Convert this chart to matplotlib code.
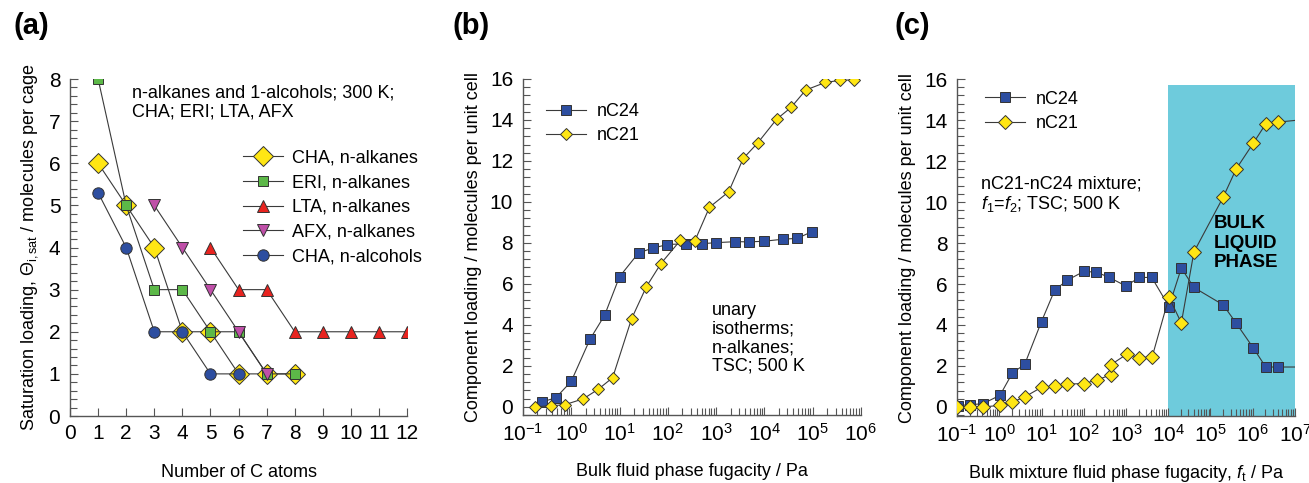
import numpy as np
import matplotlib
matplotlib.use("Agg")
from matplotlib import pyplot as plt
from matplotlib.ticker import MultipleLocator, LogLocator, NullFormatter

plt.rcParams['font.family'] = ['Liberation Sans', 'DejaVu Sans']
plt.rcParams['mathtext.fontset'] = 'custom'
plt.rcParams['mathtext.rm'] = 'Liberation Sans'
plt.rcParams['mathtext.it'] = 'Liberation Sans:italic'
plt.rcParams['mathtext.bf'] = 'Liberation Sans:bold'

# ---- (a) saturation loadings vs carbon number, 300 K
cha_alk_n = [1, 2, 3, 4, 5, 6, 7, 8]
cha_alk_q = [6, 5, 4, 2, 2, 1, 1, 1]
eri_alk_n = [1, 2, 3, 4, 5, 6, 7, 8]
eri_alk_q = [8, 5, 3, 3, 2, 2, 1, 1]
lta_alk_n = [5, 6, 7, 8, 9, 10, 11, 12]
lta_alk_q = [4, 3, 3, 2, 2, 2, 2, 2]
afx_alk_n = [3, 4, 5, 6, 7]
afx_alk_q = [5, 4, 3, 2, 1]
cha_alc_n = [1, 2, 3, 4, 5, 6]
cha_alc_q = [5.3, 4, 2, 2, 1, 1]

# ---- (b) unary isotherms, TSC, 500 K
b_f24 = [0.25, 0.48, 1.0, 2.45, 4.9, 10, 25, 50, 98, 240, 500, 1000, 2500,
         4900, 9800, 24500, 48000, 97000]
b_q24 = [0.24, 0.44, 1.24, 3.3, 4.46, 6.35, 7.52, 7.75, 7.92, 7.96, 7.96,
         8.01, 8.06, 8.05, 8.08, 8.18, 8.22, 8.55]
b_f21 = [0.18, 0.375, 0.73, 1.78, 3.6, 7.2, 17.8, 36, 72, 183, 362, 730, 1820,
         3650, 7300, 18000, 35700, 72000, 183000, 360000, 725000]
b_q21 = [0.0, 0.05, 0.1, 0.39, 0.85, 1.42, 4.3, 5.86, 6.99, 8.13, 8.09, 9.74,
         10.49, 12.12, 12.88, 14.04, 14.61, 15.46, 15.83, 15.93, 15.96]

# ---- (c) nC21-nC24 mixture, f1 = f2, TSC, 500 K (last point only continues the line)
c_f24 = [0.106, 0.2, 0.41, 1.04, 2.05, 4.0, 10, 20.5, 41, 100, 200, 400, 1000,
         2050, 4070, 10400, 20400, 40500, 200000, 405000, 1.03e6, 2.03e6,
         4.07e6, 1e7]
c_q24 = [0.07, 0.11, 0.16, 0.57, 1.66, 2.08, 4.17, 5.7, 6.19, 6.61, 6.58, 6.32,
         5.9, 6.32, 6.32, 4.9, 6.78, 5.83, 4.98, 4.09, 2.88, 1.95, 1.95, 1.95]
c_f21 = [0.1, 0.2, 0.41, 1.04, 2.05, 4.0, 10, 20.5, 41, 100, 210, 430, 430,
         1070, 2040, 4170, 10400, 20400, 40500, 200000, 405000, 1.03e6,
         2.03e6, 4.07e6, 1e7]
c_q21 = [0.0, 0.0, 0.0, 0.08, 0.24, 0.49, 0.96, 1.01, 1.12, 1.14, 1.32, 1.57,
         2.05, 2.59, 2.40, 2.45, 5.36, 4.1, 7.56, 10.24, 11.61, 12.87, 13.81,
         13.9, 13.98]
liquid_f = (1e4, 1e7)
liquid_top = 15.7

YELLOW = '#ffe614'
BLUE = '#2d4ea0'
GREEN = '#5cb848'
RED = '#e8231f'
MAGENTA = '#bf4fa8'
CYAN = '#6ecbdc'
LINE = '#3a3a3a'

FS = 13      # axis titles
TFS = 15     # tick labels
NFS = 13     # notes and legends


def style_axes(ax):
    for s in ['top', 'right']:
        ax.spines[s].set_visible(False)
    for s in ['left', 'bottom']:
        ax.spines[s].set_color('#555555')
        ax.spines[s].set_linewidth(1.0)
    ax.tick_params(which='both', direction='in', color='#555555',
                   labelsize=TFS, width=0.8)
    ax.tick_params(which='major', length=6)
    ax.tick_params(which='minor', length=5)
    ax.tick_params(axis='x', which='both', pad=6)
    ax.tick_params(axis='y', which='both', pad=7)


def series(ax, x, y, marker, color, ms, label, **kw):
    ax.plot(x, y, '-', color=LINE, lw=0.8, marker=marker, ms=ms,
            markerfacecolor=color, markeredgecolor='#333333',
            markeredgewidth=0.7, label=label, **kw)


def log_x(ax, lo, hi):
    ax.set_xscale('log')
    ax.set_xlim(lo, hi)
    ax.xaxis.set_major_locator(LogLocator(base=10, numticks=20))
    ax.xaxis.set_minor_locator(LogLocator(base=10, subs=np.arange(2, 10),
                                          numticks=20))
    ax.xaxis.set_minor_formatter(NullFormatter())


fig = plt.figure(figsize=(13.09, 4.83), dpi=100)

# ---------------- (a)
ax1 = fig.add_axes([0.0535, 0.1387, 0.2575, 0.6977])
style_axes(ax1)
series(ax1, cha_alk_n, cha_alk_q, 'D', YELLOW, 10.5, 'CHA, n-alkanes', zorder=3)
series(ax1, eri_alk_n, eri_alk_q, 's', GREEN, 7.5, 'ERI, n-alkanes', zorder=4)
series(ax1, lta_alk_n, lta_alk_q, '^', RED, 8.5, 'LTA, n-alkanes', zorder=4)
series(ax1, afx_alk_n, afx_alk_q, 'v', MAGENTA, 8.5, 'AFX, n-alkanes', zorder=5)
series(ax1, cha_alc_n, cha_alc_q, 'o', BLUE, 8.2, 'CHA, n-alcohols', zorder=4)
ax1.set_xlim(0, 12)
ax1.set_ylim(0, 8)
ax1.xaxis.set_major_locator(MultipleLocator(1))
ax1.yaxis.set_major_locator(MultipleLocator(1))
ax1.yaxis.set_minor_locator(MultipleLocator(0.2))
ax1.set_xlabel('Number of C atoms', fontsize=FS, labelpad=15)
ax1.set_ylabel(r'Saturation loading, $\Theta_{\mathrm{i,sat}}$ / molecules per cage',
               fontsize=FS, labelpad=6)
ax1.text(0.185, 0.985, 'n-alkanes and 1-alcohols; 300 K;\nCHA; ERI; LTA, AFX',
         transform=ax1.transAxes, fontsize=NFS, va='top', ha='left',
         linespacing=1.15)
ax1.legend(loc='upper left', bbox_to_anchor=(0.1856, 0.69),
           bbox_transform=fig.transFigure, frameon=False, fontsize=NFS,
           handlelength=2.2, handletextpad=0.5, labelspacing=0.42,
           borderpad=0, borderaxespad=0)
fig.text(0.010, 0.975, '(a)', fontsize=21, fontweight='bold', va='top')

# ---------------- (b)
ax2 = fig.add_axes([0.3995, 0.1408, 0.2582, 0.6957])
style_axes(ax2)
series(ax2, b_f24, b_q24, 's', BLUE, 7.3, 'nC24', zorder=3)
series(ax2, b_f21, b_q21, 'D', YELLOW, 6.3, 'nC21', zorder=4)
log_x(ax2, 0.1, 1e6)
ax2.set_ylim(-0.4, 16)
ax2.yaxis.set_major_locator(MultipleLocator(2))
ax2.yaxis.set_minor_locator(MultipleLocator(0.4))
ax2.set_xlabel('Bulk fluid phase fugacity / Pa', fontsize=FS, labelpad=13)
ax2.set_ylabel('Component loading / molecules per unit cell', fontsize=FS,
               labelpad=6)
ax2.text(0.56, 0.335, 'unary\nisotherms;\nn-alkanes;\nTSC; 500 K',
         transform=ax2.transAxes, fontsize=NFS, va='top', ha='left',
         linespacing=1.1)
ax2.legend(loc='upper left', bbox_to_anchor=(0.4171, 0.787),
           bbox_transform=fig.transFigure, frameon=False, fontsize=NFS,
           handlelength=2.2, handletextpad=0.6, labelspacing=0.42,
           borderpad=0, borderaxespad=0)
fig.text(0.346, 0.975, '(b)', fontsize=21, fontweight='bold', va='top')

# ---------------- (c)
ax3 = fig.add_axes([0.7311, 0.1387, 0.2582, 0.6977])
style_axes(ax3)
ax3.fill_between(liquid_f, -0.44, liquid_top, color=CYAN, lw=0, zorder=1)
series(ax3, c_f24, c_q24, 's', BLUE, 7.6, 'nC24', zorder=3,
       markevery=slice(0, -1))
series(ax3, c_f21, c_q21, 'D', YELLOW, 7.0, 'nC21', zorder=4,
       markevery=slice(0, -1))
log_x(ax3, 0.1, 1e7)
ax3.set_ylim(-0.44, 16)
ax3.yaxis.set_major_locator(MultipleLocator(2))
ax3.yaxis.set_minor_locator(MultipleLocator(0.4))
ax3.set_xlabel(r'Bulk mixture fluid phase fugacity, $f_{\mathrm{t}}$ / Pa',
               fontsize=FS, labelpad=12)
ax3.set_ylabel('Component loading / molecules per unit cell', fontsize=FS,
               labelpad=6)
ax3.text(0.07, 0.715, 'nC21-nC24 mixture;\n$f_1$=$f_2$; TSC; 500 K',
         transform=ax3.transAxes, fontsize=NFS, va='top', ha='left',
         linespacing=1.15)
ax3.text(0.76, 0.596, 'BULK\nLIQUID\nPHASE', transform=ax3.transAxes,
         fontsize=13.5, fontweight='bold', va='top', ha='left',
         linespacing=1.2, zorder=5)
ax3.legend(loc='upper left', bbox_to_anchor=(0.7525, 0.812),
           bbox_transform=fig.transFigure, frameon=False, fontsize=NFS,
           handlelength=2.2, handletextpad=0.6, labelspacing=0.42,
           borderpad=0, borderaxespad=0)
fig.text(0.683, 0.975, '(c)', fontsize=21, fontweight='bold', va='top')

fig.savefig('out.png', dpi=100)
